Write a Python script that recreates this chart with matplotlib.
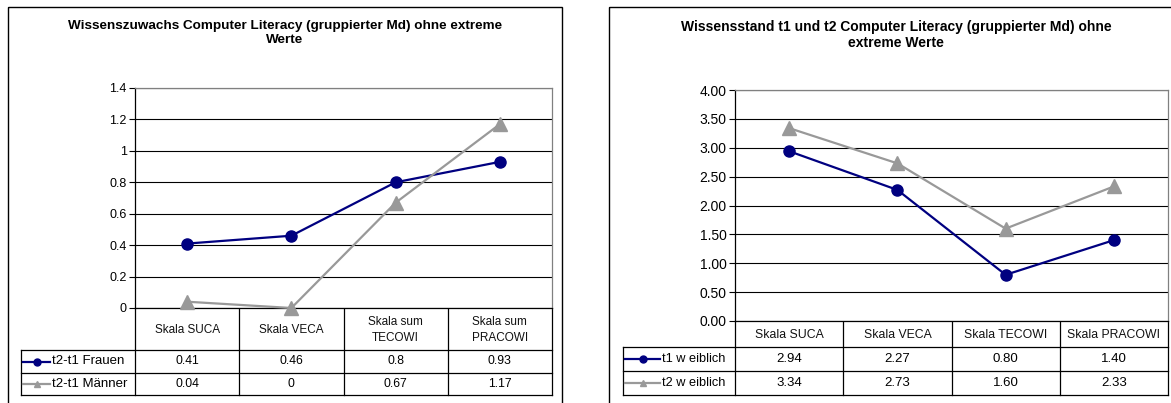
import matplotlib
matplotlib.use('Agg')
import matplotlib.pyplot as plt
from matplotlib.lines import Line2D
from matplotlib.patches import Rectangle

plt.rcParams['font.family'] = ['Liberation Sans', 'DejaVu Sans']

W, H = 1171, 403
NAVY = '#000080'
GREY = '#999999'

# left chart data
title_left = 'Wissenszuwachs Computer Literacy (gruppierter Md) ohne extreme\nWerte'
cats_left = ['Skala SUCA', 'Skala VECA', 'Skala sum\nTECOWI', 'Skala sum\nPRACOWI']
frauen = [0.41, 0.46, 0.8, 0.93]
maenner = [0.04, 0, 0.67, 1.17]
yticks_left = [0, 0.2, 0.4, 0.6, 0.8, 1.0, 1.2, 1.4]
ylabels_left = ['0', '0.2', '0.4', '0.6', '0.8', '1', '1.2', '1.4']

# right chart data
title_right = 'Wissensstand t1 und t2 Computer Literacy (gruppierter Md) ohne\nextreme Werte'
cats_right = ['Skala SUCA', 'Skala VECA', 'Skala TECOWI', 'Skala PRACOWI']
t1 = [2.94, 2.27, 0.80, 1.40]
t2 = [3.34, 2.73, 1.60, 2.33]
yticks_right = [0, 0.5, 1.0, 1.5, 2.0, 2.5, 3.0, 3.5, 4.0]
ylabels_right = ['%.2f' % v for v in yticks_right]


def px_axes(fig, l, t, r, b):
    """Axes placed by pixel box (top-left origin)."""
    return fig.add_axes([l / W, 1 - b / H, (r - l) / W, (b - t) / H])


def draw_panel(fig, bg, frame, title, title_xy, plot_box, table_box, rows_y,
               cats, series, yticks, ylabels, fmt, leg_x, fs):
    # fs: font sizes (title, ticks, header, values, legend)
    fs_title, fs_tick, fs_head, fs_val, fs_leg = fs
    fx0, fy0, fx1, fy1 = frame
    bg.add_patch(Rectangle((fx0, fy0), fx1 - fx0, fy1 - fy0, fill=False,
                           ec='black', lw=1.0))
    bg.text(title_xy[0], title_xy[1], title, ha='center', va='top',
            fontsize=fs_title, fontweight='bold', linespacing=1.2)

    l, t, r, b = plot_box
    ax = px_axes(fig, l, t, r, b)
    n = len(cats)
    xs = list(range(n))
    for name, vals, col, mk in series:
        ax.plot(xs, vals, color=col, lw=1.6, marker=mk,
                markersize=8 if mk == 'o' else 9.5,
                markerfacecolor=col, markeredgecolor=col, clip_on=False,
                zorder=3)
    ax.set_xlim(-0.5, n - 0.5)
    ax.set_ylim(yticks[0], yticks[-1])
    ax.set_yticks(yticks)
    ax.set_yticklabels(ylabels, fontsize=fs_tick)
    ax.set_xticks([])
    ax.tick_params(axis='y', direction='out', length=4, width=0.8, pad=2)
    ax.grid(axis='y', color='black', lw=0.8)
    ax.set_axisbelow(True)
    for s in ['top', 'right']:
        ax.spines[s].set_color('#808080')
    ax.spines['left'].set_color('black')
    ax.spines['bottom'].set_color('black')
    for s in ax.spines.values():
        s.set_linewidth(0.9)

    # data table below the plot
    tl, tt, tr, tb = table_box
    colw = (r - l) / n
    y_head, y_r1, y_r2 = rows_y
    kw = dict(color='black', lw=0.9)
    bounds = [l + i * colw for i in range(n + 1)]
    for xb in bounds:
        bg.plot([xb, xb], [tt, tb], **kw)
    bg.plot([tl, tl], [y_r1, tb], **kw)
    for yy in (y_r1, y_r2, tb):
        bg.plot([tl, tr], [yy, yy], **kw)
    for i, c in enumerate(cats):
        bg.text(l + (i + 0.5) * colw, (tt + y_r1) / 2 + 1, c, ha='center',
                va='center', fontsize=fs_head, linespacing=1.55,
                color='#111111')
    row_bands = [(y_r1, y_r2), (y_r2, tb)]
    for (name, vals, col, mk), (y0, y1) in zip(series, row_bands):
        yc = (y0 + y1) / 2
        bg.add_line(Line2D([tl + 2, leg_x - 2], [yc, yc], color=col, lw=1.6))
        bg.plot([(tl + 2 + leg_x - 2) / 2], [yc], marker=mk, color=col,
                markersize=5)
        bg.text(leg_x, yc, name, ha='left', va='center', fontsize=fs_leg)
        for i, v in enumerate(vals):
            bg.text(l + (i + 0.5) * colw, yc, fmt(v), ha='center',
                    va='center', fontsize=fs_val)
    return ax


fig = plt.figure(figsize=(W / 100, H / 100), dpi=100)
bg = fig.add_axes([0, 0, 1, 1])
bg.set_xlim(0, W)
bg.set_ylim(H, 0)
bg.axis('off')

draw_panel(fig, bg, (8, 7, 562, 410), title_left, (285, 20),
           (135, 88, 552, 308), (21, 308, 552, 395), (308, 350, 373),
           cats_left,
           [('t2-t1 Frauen', frauen, NAVY, 'o'),
            ('t2-t1 Männer', maenner, GREY, '^')],
           yticks_left, ylabels_left, lambda v: '%g' % v, 52,
           (9.7, 9, 8.5, 8.8, 9.5))

draw_panel(fig, bg, (609, 7, 1185, 410), title_right, (896, 20),
           (735, 90, 1168, 321), (623, 321, 1168, 395), (321, 347, 371),
           cats_right,
           [('t1 w eiblich', t1, NAVY, 'o'),
            ('t2 w eiblich', t2, GREY, '^')],
           yticks_right, ylabels_right, lambda v: '%.2f' % v, 662,
           (10, 10, 8.8, 9.5, 9.2))

fig.savefig('out.png', dpi=100)
